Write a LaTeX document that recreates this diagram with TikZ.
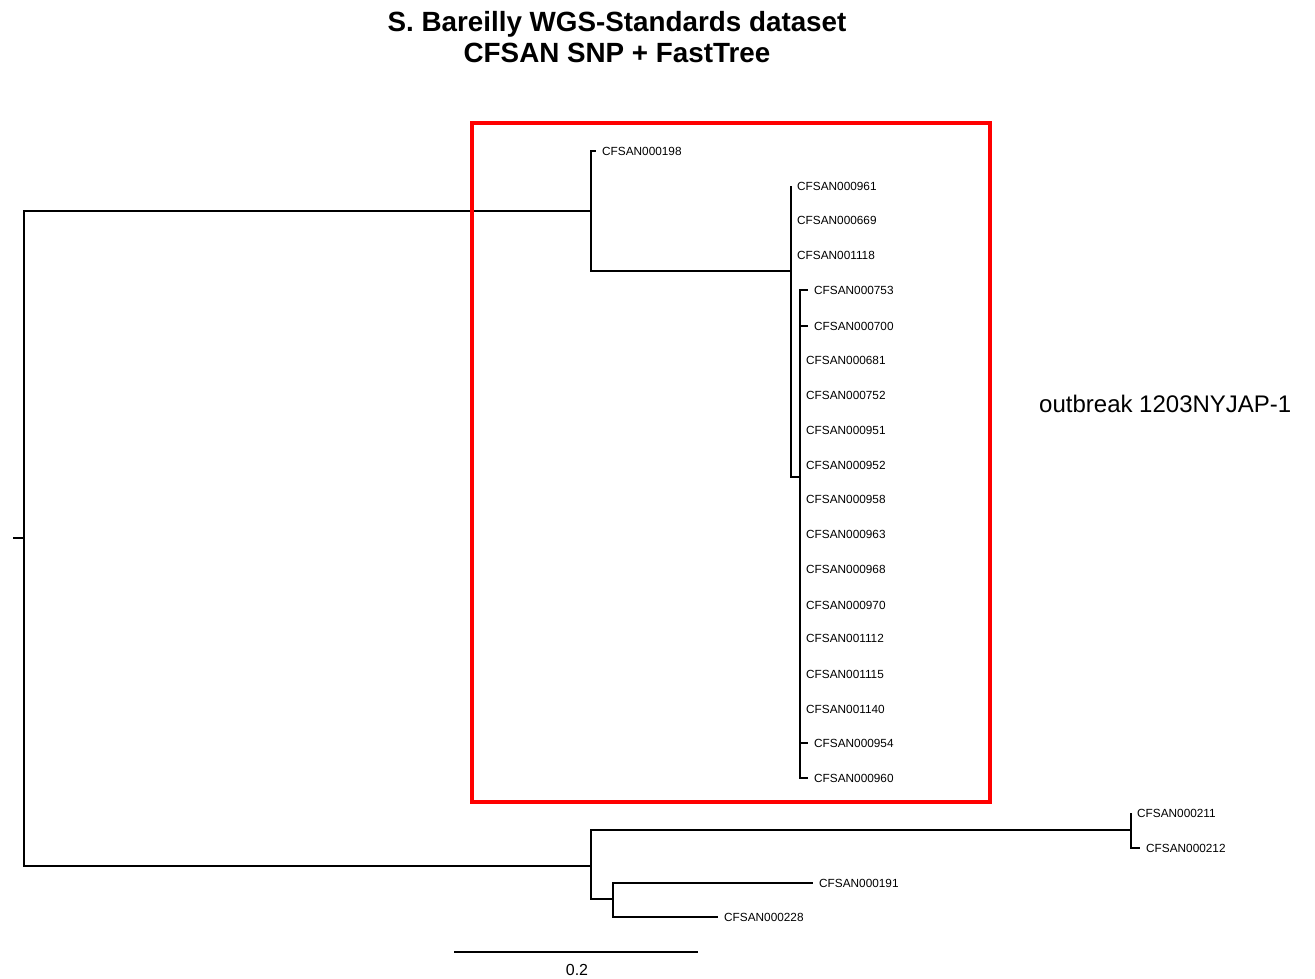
\documentclass[tikz,border=0pt]{standalone}
\usepackage{fontspec}
\setmainfont{Liberation Sans}
\begin{document}
\begin{tikzpicture}[x=1pt,y=-1pt,
  branch/.style={line width=1.6pt,black},
  leaf/.style={anchor=west,inner xsep=6pt,inner ysep=0pt,
    font=\fontsize{11.8}{13}\selectfont},
  titletext/.style={font=\fontsize{27.8}{32}\selectfont\bfseries,inner sep=0pt},
  box/.style={draw=red,line width=4pt}]
\useasboundingbox (0,0) rectangle (1315,978);

% title
\node[titletext,anchor=base] (title1) at (617,31) {S. Bareilly WGS-Standards dataset};
\node[titletext,anchor=base] (title2) at (617,62) {CFSAN SNP + FastTree};

% internal nodes of the tree
\coordinate (rootstub) at (13,538);
\coordinate (root) at (24,538);
\coordinate (A) at (591,211);
\coordinate (B) at (791,271);
\coordinate (C) at (800,477);
\coordinate (D) at (591,866);
\coordinate (E) at (1131,830);
\coordinate (F) at (613,899);

% leaves (node anchor = tip of the branch)
\node[leaf] (l198)  at (596,151) {CFSAN000198};
\node[leaf] (l961)  at (791,186) {CFSAN000961};
\node[leaf] (l669)  at (791,220) {CFSAN000669};
\node[leaf] (l1118) at (791,255) {CFSAN001118};
\node[leaf] (l753)  at (808,290) {CFSAN000753};
\node[leaf] (l700)  at (808,326) {CFSAN000700};
\node[leaf] (l681)  at (800,360) {CFSAN000681};
\node[leaf] (l752)  at (800,395) {CFSAN000752};
\node[leaf] (l951)  at (800,430) {CFSAN000951};
\node[leaf] (l952)  at (800,465) {CFSAN000952};
\node[leaf] (l958)  at (800,499) {CFSAN000958};
\node[leaf] (l963)  at (800,534) {CFSAN000963};
\node[leaf] (l968)  at (800,569) {CFSAN000968};
\node[leaf] (l970)  at (800,605) {CFSAN000970};
\node[leaf] (l1112) at (800,638) {CFSAN001112};
\node[leaf] (l1115) at (800,674) {CFSAN001115};
\node[leaf] (l1140) at (800,709) {CFSAN001140};
\node[leaf] (l954)  at (808,743) {CFSAN000954};
\node[leaf] (l960)  at (808,778) {CFSAN000960};
\node[leaf] (l211)  at (1131,813) {CFSAN000211};
\node[leaf] (l212)  at (1140,848) {CFSAN000212};
\node[leaf] (l191)  at (813,883) {CFSAN000191};
\node[leaf] (l228)  at (718,917) {CFSAN000228};

% branches
\draw[branch] (rootstub) -- (root);
\draw[branch] (root) |- (A);
\draw[branch] (root) |- (D);
\draw[branch] (A) |- (l198.west);
\draw[branch] (A) |- (B);
\foreach \n in {l961,l669,l1118}
  \draw[branch] (B) |- (\n.west);
\draw[branch] (B) |- (C);
\foreach \n in {l753,l700,l681,l752,l951,l952,l958,l963,l968,l970,l1112,l1115,l1140,l954,l960}
  \draw[branch] (C) |- (\n.west);
\draw[branch] (D) |- (E);
\draw[branch] (D) |- (F);
\draw[branch] (E) |- (l211.west);
\draw[branch] (E) |- (l212.west);
\draw[branch] (F) |- (l191.west);
\draw[branch] (F) |- (l228.west);

% outbreak cluster
\node[box,minimum width=518pt,minimum height=679pt,inner sep=0pt] (cluster) at (731,462.5) {};
\node[anchor=west,inner sep=0pt,font=\fontsize{24}{28}\selectfont] (outbreak) at (1039,404) {outbreak 1203NYJAP-1};

% scale bar
\coordinate (sb1) at (454,952);
\coordinate (sb2) at (698,952);
\draw[branch] (sb1) -- (sb2);
\node[inner sep=0pt,font=\fontsize{16}{18}\selectfont] (sblabel) at (577,969.5) {0.2};
\end{tikzpicture}
\end{document}
